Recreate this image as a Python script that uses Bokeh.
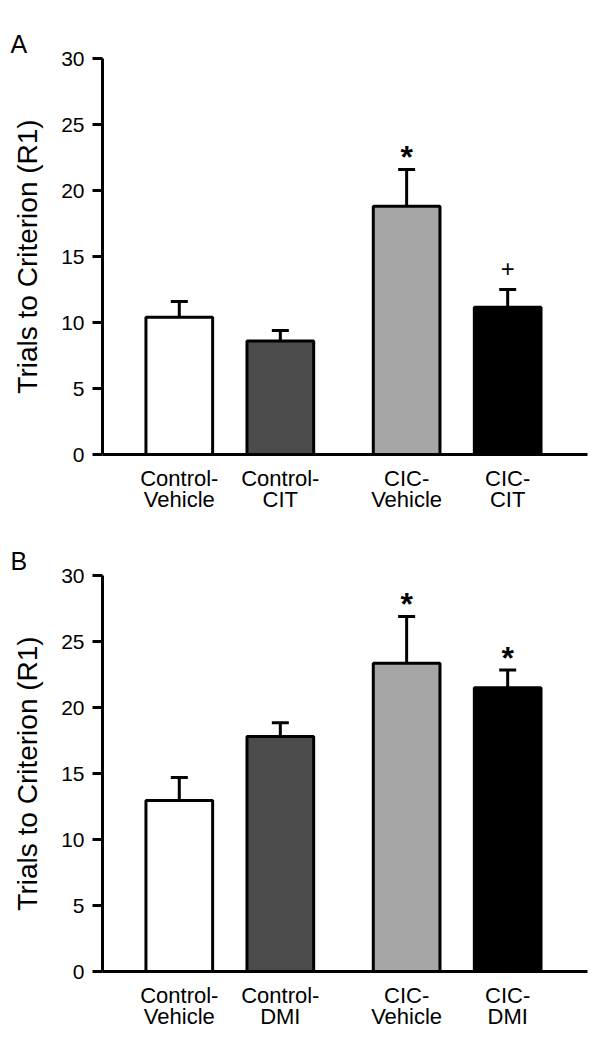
from bokeh.plotting import figure
from bokeh.layouts import column
from bokeh.models import Range1d, FixedTicker, Whisker, ColumnDataSource, TeeHead
from bokeh.core.properties import value
from bokeh.embed import file_html
from bokeh.resources import INLINE

# ---- data ----
groups = ["Control", "Control", "CIC", "CIC"]
categories_a = ["Control-\nVehicle", "Control-\nCIT", "CIC-\nVehicle", "CIC-\nCIT"]
means_a = [10.4, 8.6, 18.8, 11.15]
sem_a = [1.2, 0.8, 2.8, 1.35]
marks_a = ["", "", "*", "+"]

categories_b = ["Control-\nVehicle", "Control-\nDMI", "CIC-\nVehicle", "CIC-\nDMI"]
means_b = [12.95, 17.8, 23.35, 21.5]
sem_b = [1.75, 1.05, 3.55, 1.35]
marks_b = ["", "", "*", "*"]

bar_colors = ["#ffffff", "#4b4b4b", "#a6a6a6", "#000000"]
y_ticks = [0, 5, 10, 15, 20, 25, 30]
y_title = "Trials to Criterion (R1)"

FONT = "Liberation Sans"


def make_panel(letter, cats, means, sems, marks, height, top_border):
    order = []
    for g in groups:
        if g not in order:
            order.append(g)
    xs = [i + 1 + 0.25 * order.index(g) for i, g in enumerate(groups)]
    uppers = [m + s for m, s in zip(means, sems)]
    src = ColumnDataSource(dict(x=xs, top=means, upper=uppers, color=bar_colors,
                                mark=marks))
    p = figure(width=599, height=height, output_backend="svg", toolbar_location=None,
               x_range=Range1d(0.24, 5.04), y_range=Range1d(0, 30),
               min_border_left=102, min_border_right=12, min_border_top=top_border,
               min_border_bottom=height - top_border - 396, title=letter)
    p.outline_line_color = None
    p.xgrid.visible = False
    p.ygrid.visible = False
    p.background_fill_color = "white"
    p.border_fill_color = "white"

    p.title.align = "left"
    p.title.offset = -92
    p.title.standoff = 2
    p.title.text_line_height = 0.9
    p.title.text_font = FONT
    p.title.text_font_size = "25px"
    p.title.text_font_style = "normal"
    p.title.text_color = "black"

    p.vbar(x="x", top="top", bottom=0, width=0.66, source=src, fill_color="color",
           line_color="black", line_width=3)
    w = Whisker(base="x", lower="top", upper="upper", source=src, line_width=3,
                line_color="black", lower_head=None,
                upper_head=TeeHead(size=17, line_width=3, line_color="black"))
    p.add_layout(w)

    style = {"*": (-12, "32px", "bold"), "+": (-21, "24px", "normal")}
    for m, (off, fs, fst) in style.items():
        idx = [i for i, k in enumerate(marks) if k == m]
        if not idx:
            continue
        sub = ColumnDataSource(dict(x=[xs[i] for i in idx], y=[uppers[i] for i in idx],
                                    t=[marks[i] for i in idx]))
        p.text(x="x", y="y", text="t", source=sub, text_align="center",
               text_baseline="alphabetic", y_offset=off, text_font_style=fst,
               text_font=value(FONT), text_font_size=fs, text_color="black")

    # axes
    ya = p.yaxis[0]
    ya.ticker = FixedTicker(ticks=y_ticks)
    ya.axis_line_width = 3
    ya.axis_line_color = "black"
    ya.major_tick_line_width = 3
    ya.major_tick_line_color = "black"
    ya.major_tick_out = 10
    ya.major_tick_in = 0
    ya.minor_tick_line_color = None
    ya.major_label_text_font = FONT
    ya.major_label_text_font_size = "21px"
    ya.major_label_text_color = "black"
    ya.major_label_standoff = 8
    ya.axis_label = y_title
    ya.axis_label_text_font = FONT
    ya.axis_label_text_font_size = "28px"
    ya.axis_label_text_font_style = "normal"
    ya.axis_label_text_color = "black"
    ya.axis_label_standoff = 15

    xa = p.xaxis[0]
    xa.ticker = FixedTicker(ticks=xs)
    xa.major_label_overrides = {x: c for x, c in zip(xs, cats)}
    xa.axis_line_width = 3
    xa.axis_line_color = "black"
    xa.major_tick_line_color = None
    xa.minor_tick_line_color = None
    xa.major_label_text_font = FONT
    xa.major_label_text_font_size = "22px"
    xa.major_label_text_color = "black"
    xa.major_label_text_line_height = 0.85
    xa.major_label_standoff = 5

    return p


pa = make_panel("A", categories_a, means_a, sem_a, marks_a, 525, 58)
pb = make_panel("B", categories_b, means_b, sem_b, marks_b, 517, 50)
layout = column(pa, pb, spacing=0)

open("out.html", "w").write(file_html(layout, INLINE))
